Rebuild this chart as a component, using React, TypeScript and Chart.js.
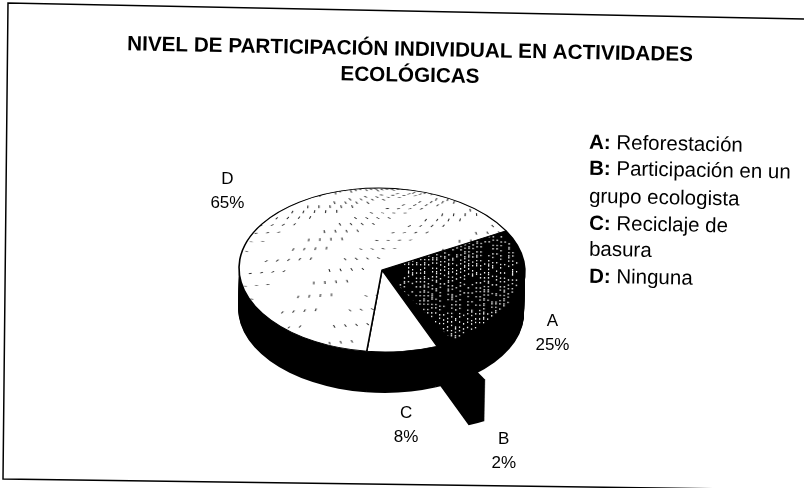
import React, { useEffect, useRef } from "react";
import { Chart, registerables } from "chart.js";

Chart.register(...registerables);

const categories = ["A", "B", "C", "D"];
const values = [25, 2, 8, 65];
const explode = [0, 73, 0, 0];
const titleLines = ["NIVEL DE PARTICIPACIÓN INDIVIDUAL EN ACTIVIDADES", "ECOLÓGICAS"];
const keyLines = [
  ["A:", " Reforestación"],
  ["B:", " Participación en un"],
  ["", "grupo ecologista"],
  ["C:", " Reciclaje de"],
  ["", "basura"],
  ["D:", " Ninguna"],
];

const FONT = '"Liberation Sans", Arial, sans-serif';
const CX = 382;
const CY = 270;
const R = 143;
const SQUASH = 0.573;
const DEPTH = 41;
const TILT = (1.1 * Math.PI) / 180;
const LABEL_NUDGE = [[32, 43], [24, 71], [2, 74], [-34, -35]];
const KEY_Y = [143, 169, 197, 224, 250, 277];

function speckleD(): HTMLCanvasElement {
  const c = document.createElement("canvas");
  c.width = 804;
  c.height = 804;
  const g = c.getContext("2d")!;
  g.fillStyle = "#fff";
  g.fillRect(0, 0, 804, 804);
  g.strokeStyle = "#222";
  g.lineWidth = 1.1;
  for (let i = 1; i < 420; i++) {
    const u = (i * 0.618034) % 1;
    const v = (i * 0.754878) % 1;
    const x = CX - R + 2 * R * u;
    const y = CY - R + 2 * R * v * v * v;
    const a = (i * 2.4) % 6.28;
    g.beginPath();
    g.moveTo(x, y);
    g.lineTo(x + Math.cos(a) * 3, y + Math.sin(a) * 5);
    g.stroke();
  }
  return c;
}

function speckleA(): HTMLCanvasElement {
  const c = document.createElement("canvas");
  c.width = 804;
  c.height = 804;
  const g = c.getContext("2d")!;
  g.fillStyle = "#000";
  g.fillRect(0, 0, 804, 804);
  g.fillStyle = "#fff";
  for (let x = 0; x < 804; x += 4) {
    for (let y = 0; y < 804; y += 3) {
      const d = Math.hypot(x - CX, y - CY);
      if (d > 136 || d < 24) continue;
      if ((x * x + y * 7 + ((x * y) % 5)) % 13 < 5) g.fillRect(x, y, 1.2, 2.6);
    }
  }
  return c;
}

function tilted(ctx: CanvasRenderingContext2D, x: number, y: number, fn: () => void) {
  ctx.save();
  ctx.translate(x, y);
  ctx.rotate(TILT);
  fn();
  ctx.restore();
}

const piePlugin = {
  id: "pie3d",
  beforeDatasetDraw(chart: any) {
    const ctx: CanvasRenderingContext2D = chart.ctx;
    const arcs = chart.getDatasetMeta(0).data;
    ctx.save();
    ctx.translate(CX, CY);
    ctx.rotate(TILT);
    ctx.translate(-CX, -CY);
    ctx.fillStyle = "#000";
    for (let d = DEPTH; d >= 0; d--) {
      ctx.save();
      ctx.translate(0, d);
      ctx.translate(CX, CY);
      ctx.scale(1, SQUASH);
      ctx.translate(-CX, -CY);
      arcs.forEach((el: any, i: number) => {
        const mid = (el.startAngle + el.endAngle) / 2;
        const shifts = explode[i] ? [0, explode[i]] : [0];
        shifts.forEach((o) => {
          const x = el.x + Math.cos(mid) * o;
          const y = el.y + Math.sin(mid) * o;
          ctx.beginPath();
          ctx.moveTo(x, y);
          ctx.arc(x, y, el.outerRadius, el.startAngle, el.endAngle);
          ctx.closePath();
          ctx.fill();
        });
      });
      ctx.restore();
    }
    ctx.translate(CX, CY);
    ctx.scale(1, SQUASH);
    ctx.translate(-CX, -CY);
  },
  afterDatasetDraw(chart: any) {
    chart.ctx.restore();
  },
  afterDraw(chart: any) {
    const ctx: CanvasRenderingContext2D = chart.ctx;
    const arcs = chart.getDatasetMeta(0).data;

    // frame
    ctx.save();
    ctx.strokeStyle = "#000";
    ctx.lineWidth = 1.5;
    ctx.beginPath();
    ctx.moveTo(804, 19);
    ctx.lineTo(8, 3);
    ctx.lineTo(3, 479);
    ctx.lineTo(804, 490);
    ctx.stroke();
    ctx.restore();

    ctx.fillStyle = "#000";
    ctx.textBaseline = "middle";

    // title
    ctx.textAlign = "center";
    ctx.font = `bold 20.7px ${FONT}`;
    tilted(ctx, 410, 50, () => ctx.fillText(titleLines[0], 0, 0));
    tilted(ctx, 410, 76, () => ctx.fillText(titleLines[1], 0, 0));

    // slice labels
    ctx.font = `17px ${FONT}`;
    arcs.forEach((el: any, i: number) => {
      const mid = (el.startAngle + el.endAngle) / 2;
      const r = el.outerRadius + explode[i];
      const x = el.x + Math.cos(mid) * r + LABEL_NUDGE[i][0];
      const y = el.y + Math.sin(mid) * r * SQUASH + LABEL_NUDGE[i][1];
      ctx.fillText(categories[i], x, y - 12);
      ctx.fillText(`${values[i]}%`, x, y + 12);
    });

    // key
    ctx.textAlign = "left";
    keyLines.forEach(([head, rest], i) => {
      tilted(ctx, 589, KEY_Y[i], () => {
        ctx.font = `bold 20.5px ${FONT}`;
        ctx.fillText(head, 0, 0);
        const w = ctx.measureText(head).width;
        ctx.font = `20.5px ${FONT}`;
        ctx.fillText(rest, w, 0);
      });
    });
  },
};

export default function App() {
  const ref = useRef<HTMLCanvasElement>(null);
  useEffect(() => {
    const ctx = ref.current!.getContext("2d")!;
    const patA = ctx.createPattern(speckleA(), "repeat")!;
    const patD = ctx.createPattern(speckleD(), "repeat")!;
    const chart = new Chart(ref.current!, {
      type: "pie",
      data: {
        labels: categories,
        datasets: [
          {
            data: values,
            backgroundColor: [patA, "#000", "#fff", patD],
            borderColor: "#000",
            borderWidth: 1.6,
            offset: explode,
            clip: false,
          } as any,
        ],
      },
      options: {
        responsive: false,
        animation: false,
        rotation: 59.5,
        radius: R,
        layout: { padding: { top: 52, right: 40 } },
        plugins: { legend: { display: false }, tooltip: { enabled: false }, title: { display: false } },
      } as any,
      plugins: [piePlugin],
    });
    return () => chart.destroy();
  }, []);
  return (
    <div style={{ position: "fixed", left: 0, top: 0, width: 804, height: 488, background: "#fff" }}>
      <canvas ref={ref} width={804} height={488} style={{ display: "block" }} />
    </div>
  );
}
